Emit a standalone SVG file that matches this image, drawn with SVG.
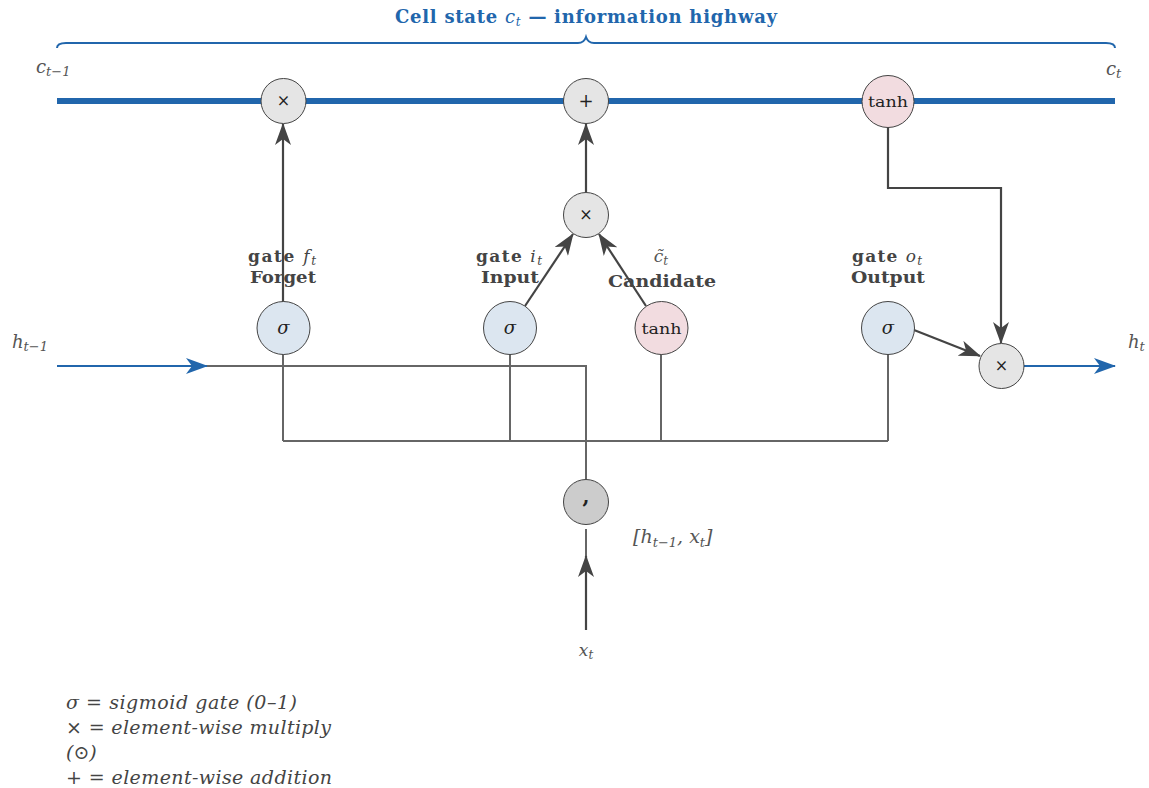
<svg xmlns="http://www.w3.org/2000/svg" width="1149" height="788" viewBox="0 0 1149 788">
<style>
.serif{font-family:"DejaVu Serif","Liberation Serif",serif;}
.math{font-family:"DejaVu Serif","Liberation Serif",serif;font-style:italic;fill:#555;}
.lbl{font-family:"DejaVu Serif","Liberation Serif",serif;font-weight:bold;fill:#444;font-size:17px;}
.bus{fill:none;stroke:#666;stroke-width:2;}
.dark{fill:none;stroke:#444;stroke-width:2.2;}
.blue{fill:none;stroke:#2166ac;stroke-width:2.2;}
.sig{fill:#dce6f0;stroke:#444;stroke-width:1;}
.tanh{fill:#f2dce0;stroke:#444;stroke-width:1;}
.op{fill:#e5e5e5;stroke:#444;stroke-width:1;}
.cat{fill:#cccccc;stroke:#444;stroke-width:1;}
.sym{font-family:"DejaVu Serif","Liberation Serif",serif;fill:#222;text-anchor:middle;}
.leg{font-family:"DejaVu Serif","Liberation Serif",serif;font-style:italic;fill:#444;font-size:19px;}
</style>
<defs>
<marker id="ad" viewBox="0 0 22 16" refX="21" refY="8" markerWidth="22" markerHeight="16" orient="auto" markerUnits="userSpaceOnUse"><path d="M0,0 L22,8 L0,16 L6,8 z" fill="#444"/></marker>
<marker id="ab" viewBox="0 0 22 16" refX="21" refY="8" markerWidth="22" markerHeight="16" orient="auto" markerUnits="userSpaceOnUse"><path d="M0,0 L22,8 L0,16 L6,8 z" fill="#2166ac"/></marker>
</defs>

<!-- title and brace -->
<text x="395" y="23" textLength="382" lengthAdjust="spacing" class="serif" font-weight="bold" font-size="18" fill="#2166ac">Cell state <tspan font-style="italic" font-weight="normal">c</tspan><tspan font-style="italic" font-weight="normal" font-size="12" dy="3">t</tspan><tspan dy="-3"> — information highway</tspan></text>
<path d="M57,48 Q57,43 66,43 L578,43 Q584,43 586,37 Q588,43 594,43 L1106,43 Q1115,43 1115,48" fill="none" stroke="#2166ac" stroke-width="2"/>

<!-- connectors -->
<g id="connectors">
  <line x1="57" y1="101" x2="1115" y2="101" stroke="#2166ac" stroke-width="6"/>
  <line class="blue" x1="57" y1="366" x2="207" y2="366" marker-end="url(#ab)"/>
  <polyline class="bus" points="207,366 586,366 586,479"/>
  <line class="bus" x1="283" y1="441" x2="888" y2="441"/>
  <line class="bus" x1="283" y1="354" x2="283" y2="441"/>
  <line class="bus" x1="510" y1="354" x2="510" y2="441"/>
  <line class="bus" x1="661" y1="354" x2="661" y2="441"/>
  <line class="bus" x1="888" y1="354" x2="888" y2="441"/>
  <line class="bus" x1="586" y1="529" x2="586" y2="556"/>
  <line class="dark" x1="586" y1="630" x2="586" y2="556" marker-end="url(#ad)"/>
  <line class="dark" x1="283" y1="302" x2="283" y2="124" marker-end="url(#ad)"/>
  <line class="dark" x1="525" y1="306" x2="573" y2="234" marker-end="url(#ad)"/>
  <line class="dark" x1="646" y1="306" x2="599" y2="234" marker-end="url(#ad)"/>
  <line class="dark" x1="586" y1="192" x2="586" y2="124" marker-end="url(#ad)"/>
  <polyline class="dark" points="888,127 888,188 1001,188 1001,343" marker-end="url(#ad)"/>
  <line class="dark" x1="914" y1="330" x2="980" y2="356" marker-end="url(#ad)"/>
  <line class="blue" x1="1023" y1="366" x2="1115" y2="366" marker-end="url(#ab)"/>
</g>

<!-- nodes -->
<g id="forget_mul"><circle class="op" cx="283.5" cy="101" r="22.5"/><text class="sym" x="283.5" y="106" font-size="16">×</text></g>
<g id="add"><circle class="op" cx="586" cy="101" r="22.5"/><text class="sym" x="586" y="107" font-size="18">+</text></g>
<g id="cell_tanh"><circle class="tanh" cx="888" cy="101.5" r="26"/><text class="sym" x="888" y="107" font-size="15" textLength="40" lengthAdjust="spacingAndGlyphs">tanh</text></g>
<g id="input_mul"><circle class="op" cx="586" cy="215" r="22.5"/><text class="sym" x="586" y="220" font-size="16">×</text></g>
<g id="forget_gate"><circle class="sig" cx="283.5" cy="328" r="26.5"/><text class="sym" x="283.5" y="334" font-size="18" font-style="italic">σ</text></g>
<g id="input_gate"><circle class="sig" cx="510" cy="328" r="26.5"/><text class="sym" x="510" y="334" font-size="18" font-style="italic">σ</text></g>
<g id="candidate"><circle class="tanh" cx="661.5" cy="328" r="26.5"/><text class="sym" x="661.5" y="334" font-size="15" textLength="40" lengthAdjust="spacingAndGlyphs">tanh</text></g>
<g id="output_gate"><circle class="sig" cx="888" cy="328" r="26.5"/><text class="sym" x="888" y="334" font-size="18" font-style="italic">σ</text></g>
<g id="output_mul"><circle class="op" cx="1001.5" cy="366" r="22.5"/><text class="sym" x="1001.5" y="371" font-size="16">×</text></g>
<g id="concat"><circle class="cat" cx="586" cy="502" r="22.5"/><text class="sym" x="586" y="503" font-size="20" font-weight="bold">,</text></g>

<!-- labels -->
<text class="math" x="36" y="73" font-size="18">c<tspan font-size="13" dy="3">t−1</tspan></text>
<text class="math" x="1106" y="75" font-size="18">c<tspan font-size="13" dy="3">t</tspan></text>
<text class="math" x="12" y="348" font-size="18">h<tspan font-size="13" dy="3">t−1</tspan></text>
<text class="math" x="1128" y="348" font-size="18">h<tspan font-size="13" dy="3">t</tspan></text>

<text class="lbl" x="248" y="262" textLength="68" lengthAdjust="spacing">gate <tspan font-style="italic" font-weight="normal">f</tspan><tspan font-style="italic" font-weight="normal" font-size="12" dy="3">t</tspan></text>
<text class="lbl" x="250" y="283" textLength="66" lengthAdjust="spacingAndGlyphs">Forget</text>
<text class="lbl" x="476" y="262" textLength="66" lengthAdjust="spacing">gate <tspan font-style="italic" font-weight="normal">i</tspan><tspan font-style="italic" font-weight="normal" font-size="12" dy="3">t</tspan></text>
<text class="lbl" x="481" y="283" textLength="58" lengthAdjust="spacingAndGlyphs">Input</text>
<text class="math" x="661" y="262" text-anchor="middle" font-size="17">c̃<tspan font-size="12" dy="3">t</tspan></text>
<text class="lbl" x="608" y="287" textLength="108" lengthAdjust="spacingAndGlyphs">Candidate</text>
<text class="lbl" x="852" y="262" textLength="70" lengthAdjust="spacing">gate <tspan font-style="italic" font-weight="normal">o</tspan><tspan font-style="italic" font-weight="normal" font-size="12" dy="3">t</tspan></text>
<text class="lbl" x="851" y="283" textLength="74" lengthAdjust="spacingAndGlyphs">Output</text>

<text class="math" x="633" y="543" font-size="19">[h<tspan font-size="13" dy="4">t−1</tspan><tspan dy="-4">, x</tspan><tspan font-size="13" dy="4">t</tspan><tspan dy="-4">]</tspan></text>
<text class="math" x="586" y="656" text-anchor="middle" font-size="17">x<tspan font-size="12" dy="3">t</tspan></text>

<g id="legend">
<text class="leg" x="66" y="709" textLength="231" lengthAdjust="spacing">σ = sigmoid gate (0–1)</text>
<text class="leg" x="66" y="734" textLength="265" lengthAdjust="spacing">× = element-wise multiply</text>
<text class="leg" x="66" y="759">(⊙)</text>
<text class="leg" x="66" y="784" textLength="266" lengthAdjust="spacing">+ = element-wise addition</text>
</g>
</svg>
